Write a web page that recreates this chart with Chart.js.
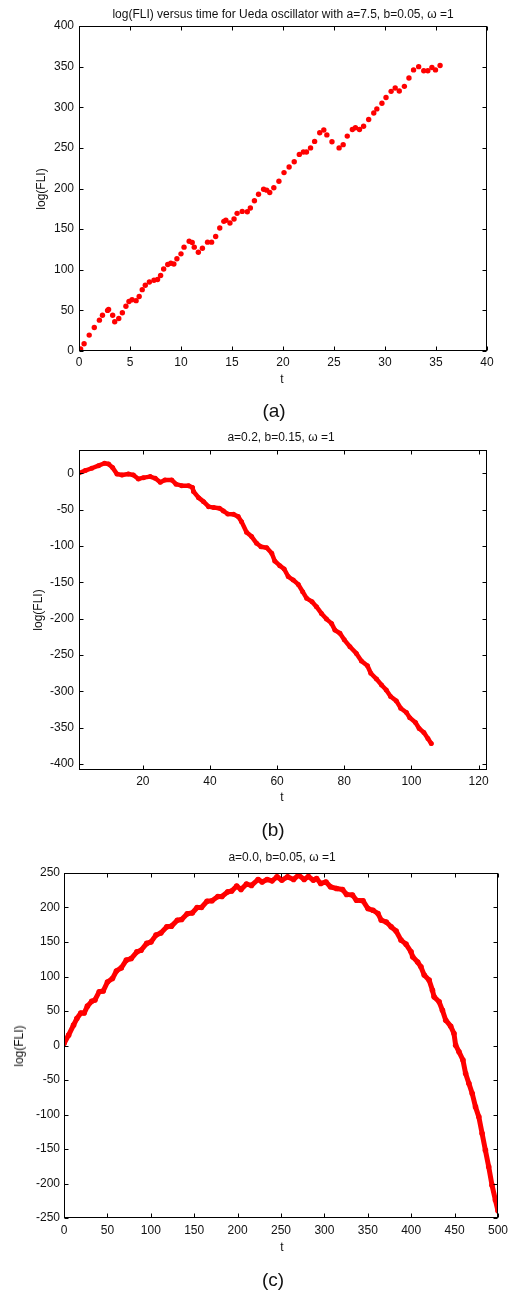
<!DOCTYPE html>
<html>
<head>
<meta charset="utf-8">
<script src="https://cdn.jsdelivr.net/npm/chart.js@4/dist/chart.umd.min.js"></script>
<style>
  html,body{margin:0;padding:0;background:#fff;}
  body{width:513px;height:1292px;position:relative;overflow:hidden;font-family:"Liberation Sans",Arial,sans-serif;color:#111;}
  canvas{position:absolute;left:0;}
  .txt{position:absolute;white-space:nowrap;transform:translate(-50%,-50%);font-size:12px;line-height:1;z-index:2;}
  .rot{transform:translate(-50%,-50%) rotate(-90deg);}
  .cap{font-size:19px;}
</style>
</head>
<body>
<div class="txt" style="left:283px;top:14px;">log(FLI) versus time for Ueda oscillator with a=7.5, b=0.05, ω =1</div>
<div class="txt rot" style="left:41px;top:189px;">log(FLI)</div>
<div class="txt" style="left:282px;top:379px;">t</div>
<div class="txt cap" style="left:274px;top:410px;">(a)</div>

<div class="txt" style="left:281px;top:437px;">a=0.2, b=0.15, ω =1</div>
<div class="txt rot" style="left:38px;top:610px;">log(FLI)</div>
<div class="txt" style="left:282px;top:797px;">t</div>
<div class="txt cap" style="left:273px;top:829px;">(b)</div>

<div class="txt" style="left:282px;top:857px;">a=0.0, b=0.05, ω =1</div>
<div class="txt rot" style="left:19px;top:1046px;">log(FLI)</div>
<div class="txt" style="left:282px;top:1247px;">t</div>
<div class="txt cap" style="left:273px;top:1279px;">(c)</div>

<canvas id="ca" width="513" height="375" style="top:0px"></canvas>
<canvas id="cb" width="513" height="370" style="top:425px"></canvas>
<canvas id="cc" width="513" height="400" style="top:845px"></canvas>

<script>
// ---- Data (a): a=7.5, b=0.05
const tA = [0.16,0.5,1.0,1.5,2.0,2.3,2.8,2.9,3.3,3.5,3.9,4.25,4.6,4.9,5.2,5.6,5.9,6.2,6.5,6.9,7.35,7.7,8.0,8.3,8.7,9.0,9.3,9.6,10.0,10.3,10.8,11.1,11.3,11.7,12.1,12.6,13.0,13.4,13.8,14.2,14.4,14.8,15.2,15.5,16.0,16.5,16.8,17.2,17.6,18.1,18.4,18.7,19.1,19.6,20.1,20.6,21.1,21.6,22.0,22.3,22.7,23.1,23.6,24.0,24.3,24.8,25.5,25.9,26.3,26.8,27.1,27.5,27.9,28.4,28.9,29.2,29.7,30.1,30.6,31.0,31.4,31.9,32.35,32.8,33.3,33.8,34.2,34.6,34.95,35.4];
const vA = [2.4,9,19.6,29,38,44,50,51,44,36,40,47,55,61,63,62,67,75.5,81,85,87,88,93,101,106.5,108,107,113.5,119.6,127.8,135,133.5,127.8,121.6,126.5,134,134,141,151.4,159.6,161,157.6,162.4,169.4,171.8,171.4,176,185,193,199,198,195,201,209,219.6,226.5,233,242,245,245,250,258,268.6,272,266,257.5,250,254,264.5,272.6,274.7,272.6,276.7,285,293,298,305,312,319.6,323.7,320,325.7,336,346,350,345,345,349,346,351.4];
const xTicksA = [0,5,10,15,20,25,30,35,40];
const yTicksA = [0,50,100,150,200,250,300,350,400];

// ---- Data (b): a=0.2, b=0.15
const tB = [0.9,2.85,4.8,6.8,8.6,9.8,11.0,12.3,13.8,15.7,17.2,18.7,20.2,22.2,23.7,25.2,26.6,28.6,29.9,31.6,33.6,34.8,35.1,36.6,38.1,39.6,41.1,42.8,44.0,45.3,47.0,48.4,49.4,50.9,52.4,53.9,55.2,56.9,58.4,59.3,60.8,62.1,63.3,64.8,66.3,67.6,68.8,70.4,71.7,73.2,74.7,76.2,77.2,78.7,80.0,81.7,83.6,85.1,86.9,87.9,89.6,91.1,92.5,93.8,95.5,96.8,98.5,99.5,101.2,102.3,103.7,104.9,105.9];
const vB = [0,3.7,6.9,10.5,13.8,12.8,7.8,-0.9,-2.3,-0.9,-2.3,-7.8,-6,-4.6,-6.9,-12.4,-9.2,-9.2,-15,-17,-17,-19.7,-25,-33.5,-39,-45.9,-47.2,-48,-51.8,-56,-56.4,-59.6,-66.5,-81,-87,-96.3,-101,-102.3,-110,-120.6,-127,-131.7,-142,-146.8,-152.8,-162.8,-172,-176.6,-183.5,-192.7,-200.5,-206.4,-215.6,-220,-229,-238.5,-247.7,-258,-264.7,-275,-283,-291,-298,-307,-313,-323,-329,-336,-342.7,-351,-356.4,-364.7,-371.6];
const xTicksB = [20,40,60,80,100,120];
const yTicksB = [-400,-350,-300,-250,-200,-150,-100,-50,0];

// ---- Data (c): a=0.0, b=0.05
const tC = [0,5.3,11,14.8,19.4,23.2,27,31.9,35.7,40.6,45.2,50.1,55.8,60.4,66,71.8,77.4,84,88.8,95.3,100.2,106,111.6,118.5,123.8,130.6,135.5,142,147.7,153.4,158.3,164.8,170.5,177.3,181.9,188.7,193.2,199,203.9,210.3,216,223.6,228.2,234,239.7,245.4,251,257.6,264.5,270.2,276.7,281.6,287.3,291,295.7,301.8,307,314,320.9,325.5,332.3,336.9,344.5,350.2,356,361.7,365.5,371.2,376.9,382.6,388.3,394,399.8,401.7,407.4,411.2,415,420.7,424.5,426.4,432.2,436,439.8,445.5,449.3,451.2,455,459.6,462.7,466.5,470.3,474.1,477.9,481.7,485.5,489.3,493.1,497,500];
const vC = [3,15,29.5,39,47,47,57,64,66,78,79,92,97,108,112.5,123.7,126,135.7,138,148,150,160,163,172,173,181.6,182.6,191,192,200,200,209,209.7,216,216,222.7,224,231,226,234,232,240.6,237,240.6,238.6,244.4,239.6,244.4,240.6,247,240.6,245,239.6,242,234.8,237,230,227.5,226,219,218,210.6,209.7,198.5,196,191.3,181.6,179,172,166,152.7,146.9,135.7,128.5,121,114,102,94.7,80,70.5,63.3,51,36.7,28,17.4,0.5,-9,-21,-40.6,-55,-69.6,-89,-103.4,-127.5,-151.7,-175.8,-202.4,-224,-239.6];
const xTicksC = [0,50,100,150,200,250,300,350,400,450,500];
const yTicksC = [-250,-200,-150,-100,-50,0,50,100,150,200,250];

const boxPlugin = {
  id: 'matlabBox',
  afterDraw(chart) {
    const {ctx, chartArea: a, scales: {x, y}} = chart;
    ctx.save();
    ctx.strokeStyle = '#000';
    ctx.lineWidth = 1;
    const L = Math.round(a.left) + 0.5, R = Math.round(a.right) - 0.5;
    const T = Math.round(a.top) + 0.5, B = Math.round(a.bottom) - 0.5;
    ctx.strokeRect(L, T, R - L, B - T);
    const len = 4;
    ctx.beginPath();
    x.ticks.forEach(t => {
      const p = Math.round(x.getPixelForValue(t.value)) + 0.5;
      ctx.moveTo(p, B); ctx.lineTo(p, B - len);
      ctx.moveTo(p, T); ctx.lineTo(p, T + len);
    });
    y.ticks.forEach(t => {
      const p = Math.round(y.getPixelForValue(t.value)) + 0.5;
      ctx.moveTo(L, p); ctx.lineTo(L + len, p);
      ctx.moveTo(R, p); ctx.lineTo(R - len, p);
    });
    ctx.stroke();
    ctx.restore();
  }
};

function makeChart(id, o) {
  const canvasTop = o.canvasTop, canvasH = o.canvasH;
  const pts = o.t.map((t, i) => ({x: t, y: o.v[i]}));
  const font = {family: '"Liberation Sans", Arial, sans-serif', size: 12};
  new Chart(document.getElementById(id), {
    type: 'scatter',
    data: {datasets: [{
      data: pts,
      showLine: o.line,
      borderColor: '#ff0000',
      borderWidth: o.line ? o.bw : 0,
      pointRadius: o.r,
      pointBackgroundColor: '#ff0000',
      pointBorderWidth: 0,
      pointHoverRadius: o.r,
      borderCapStyle: 'round',
      borderJoinStyle: 'round',
      tension: 0
    }]},
    options: {
      responsive: false,
      animation: false,
      devicePixelRatio: 1,
      events: [],
      layout: {padding: {left: 0, top: o.plot.top - canvasTop, right: 513 - o.plot.right, bottom: 0}},
      plugins: {legend: {display: false}, tooltip: {enabled: false}, title: {display: false}},
      scales: {
        x: {
          type: 'linear', min: o.xMin, max: o.xMax,
          grid: {display: false, drawTicks: false},
          border: {display: false},
          ticks: {font, color: '#111', padding: o.xPad, maxRotation: 0, autoSkip: false},
          afterBuildTicks: s => { s.ticks = o.xTicks.map(v => ({value: v})); },
          afterFit: s => { s.height = canvasTop + canvasH - o.plot.bottom; }
        },
        y: {
          type: 'linear', min: o.yMin, max: o.yMax,
          grid: {display: false, drawTicks: false},
          border: {display: false},
          ticks: {font, color: '#111', padding: o.yPad, autoSkip: false},
          afterBuildTicks: s => { s.ticks = o.yTicks.map(v => ({value: v})); },
          afterFit: s => { s.width = o.plot.left; }
        }
      }
    },
    plugins: [boxPlugin]
  });
}

makeChart('ca', {t: tA, v: vA, xMin: 0, xMax: 40, yMin: 0, yMax: 400, xTicks: xTicksA, yTicks: yTicksA,
  plot: {left: 79, top: 26, right: 487, bottom: 351}, canvasTop: 0, canvasH: 375, line: false, r: 2.7, bw: 0, xPad: 4, yPad: 5});
makeChart('cb', {t: tB, v: vB, xMin: 1, xMax: 122.5, yMin: -408, yMax: 32, xTicks: xTicksB, yTicks: yTicksB,
  plot: {left: 79, top: 450, right: 487, bottom: 770}, canvasTop: 425, canvasH: 370, line: true, r: 2.5, bw: 4.5, xPad: 4, yPad: 5});
makeChart('cc', {t: tC, v: vC, xMin: 0, xMax: 500, yMin: -250, yMax: 250, xTicks: xTicksC, yTicks: yTicksC,
  plot: {left: 64, top: 873, right: 503, bottom: 1218}, canvasTop: 845, canvasH: 400, line: true, r: 2.8, bw: 5, xPad: 5, yPad: 4});
</script>
</body>
</html>
